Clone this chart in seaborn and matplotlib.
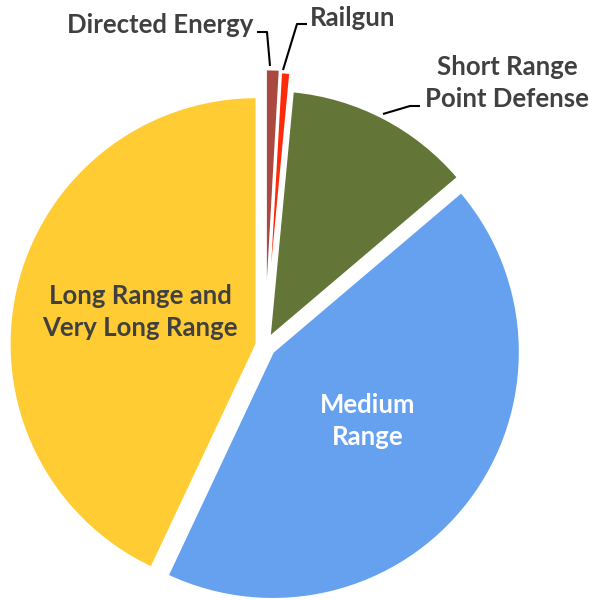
import numpy as np
import pandas as pd
import matplotlib
matplotlib.use("Agg")
import matplotlib.pyplot as plt
import seaborn as sns

# slices, clockwise from 12 o'clock
categories = ["Directed Energy", "Railgun", "Short Range\nPoint Defense",
              "Medium\nRange", "Long Range and\nVery Long Range"]
shares = [0.9, 0.6, 12.3, 43.2, 43.0]
colors = ["#A9493F", "#FF2A0A", "#637537", "#66A1F0", "#FFCC33"]
explode = [0.12, 0.11, 0.04, 0.04, 0.035]   # fraction of the radius

sns.set_theme(style="white")
plt.rcParams["font.family"] = ["Lato", "DejaVu Sans"]

W, H = 589, 600
fig = plt.figure(figsize=(W / 100, H / 100), dpi=100)
ax = fig.add_axes([0, 0, 1, 1])

# work in pixel units, y measured from the top of the picture
def py(y):
    return H - y

R = 247
# matplotlib's explode is in data units, so scale by the radius
ax.pie(shares, colors=colors, explode=[e * R for e in explode], startangle=90,
       counterclock=False, center=(265, py(346)), radius=R,
       wedgeprops=dict(edgecolor="white", linewidth=1.5))

ax.set_xlim(0, W)
ax.set_ylim(0, H)
ax.set_aspect("equal")
ax.set_axis_off()

dark = "#404040"
fs = 18.5

# inside labels
ax.text(140, py(312), categories[4], ha="center", va="center", fontsize=fs,
        fontweight="bold", color=dark, linespacing=1.42)
ax.text(368, py(421), categories[3], ha="center", va="center", fontsize=fs,
        fontweight="bold", color="white", linespacing=1.42)

# outside labels
ax.text(253, py(25), categories[0], ha="right", va="center", fontsize=fs,
        fontweight="bold", color=dark)
ax.text(310, py(18), categories[1], ha="left", va="center", fontsize=fs,
        fontweight="bold", color=dark)
ax.text(507, py(83), categories[2], ha="center", va="center", fontsize=fs,
        fontweight="bold", color=dark, linespacing=1.42)

# leader lines
leaders = [
    [(257, 32), (267, 32), (270, 66)],
    [(307, 24), (297, 24), (283, 70)],
    [(420, 106), (410, 106), (383, 114)],
]
for pts in leaders:
    xs = [p[0] for p in pts]
    ys = [py(p[1]) for p in pts]
    ax.plot(xs, ys, color="black", lw=1.5, solid_capstyle="butt")

fig.savefig("out.png", dpi=100)
